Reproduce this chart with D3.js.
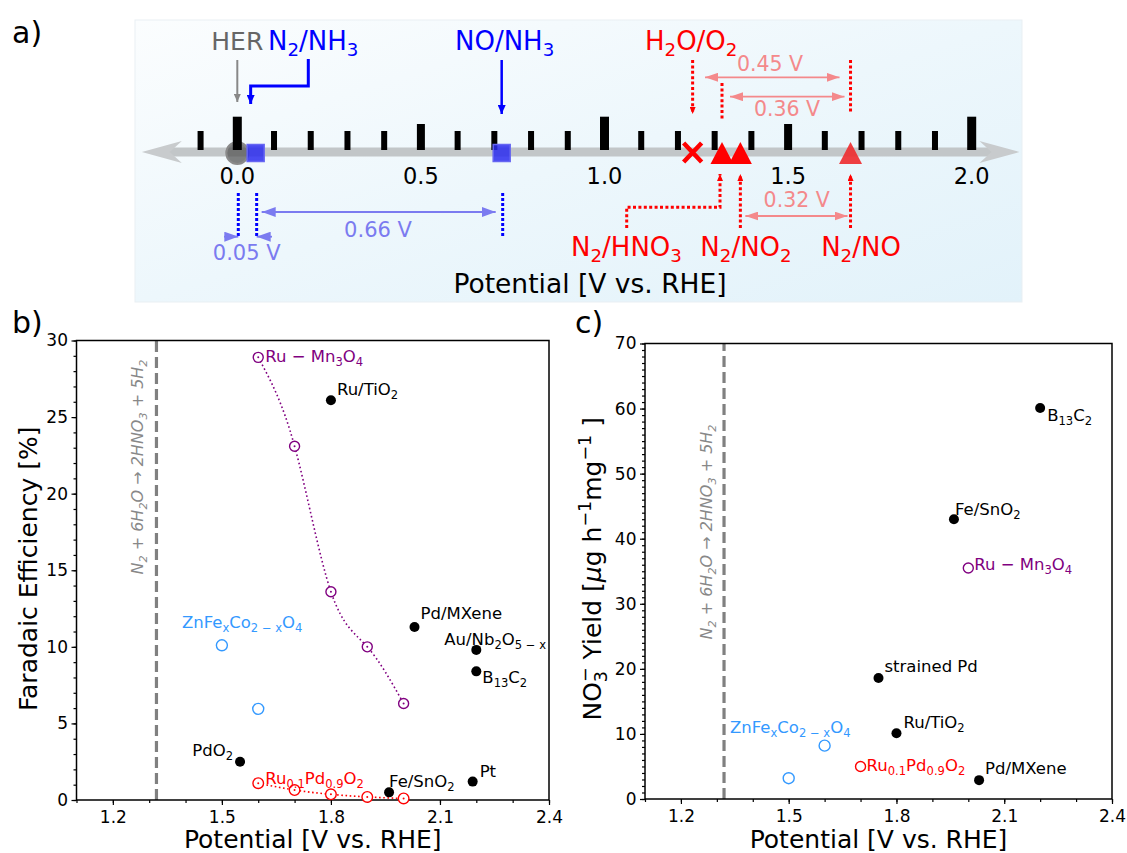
<!DOCTYPE html>
<html lang="en">
<head>
<meta charset="utf-8">
<script src="https://cdn.jsdelivr.net/npm/d3@7"></script>
<style>
  body { margin: 0; background: #fff; }
  svg { display: block; font-family: "DejaVu Sans", sans-serif; }
</style>
</head>
<body>
<svg id="fig" width="1127" height="853"></svg>
<script>
  // ---- a) redox couples on the potential scale (V vs. RHE)
  const coupleNames = ['HER', 'N2/NH3', 'NO/NH3', 'H2O/O2', 'N2/HNO3', 'N2/NO2', 'N2/NO'];
  const couplePotentials = [0.00, 0.05, 0.72, 1.24, 1.32, 1.37, 1.67];
  const scaleTicks = [-0.1, 0.0, 0.1, 0.2, 0.3, 0.4, 0.5, 0.6, 0.7, 0.8, 0.9, 1.0,
    1.1, 1.2, 1.3, 1.4, 1.5, 1.6, 1.7, 1.8, 1.9, 2.0];
  const scaleLabels = [0.0, 0.5, 1.0, 1.5, 2.0];
  const gapLabels = ['0.05 V', '0.66 V', '0.45 V', '0.36 V', '0.32 V'];

  // ---- b) faradaic efficiency [%]
  const ruMnV = [1.6, 1.7, 1.8, 1.9, 2.0];
  const ruMnFE = [28.9, 23.1, 13.6, 10.0, 6.3];
  const ruPdV = [1.6, 1.7, 1.8, 1.9, 2.0];
  const ruPdFE = [1.1, 0.65, 0.37, 0.2, 0.1];
  const znFeV = [1.5, 1.6];
  const znFeFE = [10.1, 5.95];
  const bCatalysts = ['Ru/TiO2', 'Pd/MXene', 'Au/Nb2O5-x', 'B13C2', 'PdO2', 'Fe/SnO2', 'Pt'];
  const bV = [1.80, 2.03, 2.20, 2.20, 1.55, 1.96, 2.19];
  const bFE = [26.1, 11.3, 9.8, 8.4, 2.5, 0.5, 1.2];

  // ---- c) nitrate yield [ug h-1 mg-1]
  const cCatalysts = ['B13C2', 'Fe/SnO2', 'strained Pd', 'Ru/TiO2', 'Pd/MXene'];
  const cV = [2.20, 1.96, 1.75, 1.80, 2.03];
  const cYield = [60.1, 43.0, 18.6, 10.1, 2.9];
  const ruMnYieldV = [2.0];
  const ruMnYield = [35.5];
  const ruPdYieldV = [1.7];
  const ruPdYield = [5.0];
  const znFeYieldV = [1.5, 1.6];
  const znFeYield = [3.2, 8.2];

  const eqPotential = 1.32;   // N2 + 6H2O -> 2HNO3 + 5H2
  const xTickVals = [1.2, 1.5, 1.8, 2.1, 2.4];
  const bTickVals = [0, 5, 10, 15, 20, 25, 30];
  const cTickVals = [0, 10, 20, 30, 40, 50, 60, 70];

  const purple = '#800080', red = '#ff0000', lightBlue = '#3399ff';
  const pink = '#f4898b', paleBlue = '#7b7bf0';
  const font = '"DejaVu Sans", sans-serif';

  // formulas with sub/superscripts
  const rich = {
    'HER': [['HER']],
    'N2/NH3': [['N'], ['2', 'sub'], ['/NH'], ['3', 'sub']],
    'NO/NH3': [['NO/NH'], ['3', 'sub']],
    'H2O/O2': [['H'], ['2', 'sub'], ['O/O'], ['2', 'sub']],
    'N2/HNO3': [['N'], ['2', 'sub'], ['/HNO'], ['3', 'sub']],
    'N2/NO2': [['N'], ['2', 'sub'], ['/NO'], ['2', 'sub']],
    'N2/NO': [['N'], ['2', 'sub'], ['/NO']],
    'Ru/TiO2': [['Ru/TiO'], ['2', 'sub']],
    'Pd/MXene': [['Pd/MXene']],
    'Au/Nb2O5-x': [['Au/Nb'], ['2', 'sub'], ['O'], ['5 − x', 'sub']],
    'B13C2': [['B'], ['13', 'sub'], ['C'], ['2', 'sub']],
    'PdO2': [['PdO'], ['2', 'sub']],
    'Fe/SnO2': [['Fe/SnO'], ['2', 'sub']],
    'Pt': [['Pt']],
    'strained Pd': [['strained Pd']],
    'Ru-Mn3O4': [['Ru − Mn'], ['3', 'sub'], ['O'], ['4', 'sub']],
    'Ru0.1Pd0.9O2': [['Ru'], ['0.1', 'sub'], ['Pd'], ['0.9', 'sub'], ['O'], ['2', 'sub']],
    'ZnFexCo2-xO4': [['ZnFe'], ['x', 'sub'], ['Co'], ['2 − x', 'sub'], ['O'], ['4', 'sub']],
    'eq': [['N'], ['2', 'sub'], [' + 6H'], ['2', 'sub'], ['O → 2HNO'], ['3', 'sub'], [' + 5H'], ['2', 'sub']],
    'yieldLabel': [['NO'], ['3', 'sub'], ['−', 'sup', -11], [' Yield ['], ['μ', 'i'], ['g h'], ['−1', 'sup'], ['mg'], ['−1', 'sup'], [' ]']]
  };

  function addRich(sel, key, size) {
    let cur = 0;
    rich[key].forEach(([s, k, dx]) => {
      const off = k === 'sub' ? size * 0.24 : k === 'sup' ? -size * 0.42 : 0;
      const ts = sel.append('tspan').attr('dy', off - cur).text(s);
      if (k === 'sub' || k === 'sup') ts.attr('font-size', size * 0.7);
      if (k === 'i') ts.attr('font-style', 'italic');
      if (dx) ts.attr('dx', dx);
      cur = off;
    });
    return sel;
  }

  function label(g, x, y, key, size, color, anchor) {
    const t = g.append('text').attr('x', x).attr('y', y).attr('font-size', size)
      .attr('fill', color).attr('text-anchor', anchor || 'start');
    return addRich(t, key, size);
  }

  const svg = d3.select('#fig');
  const defs = svg.append('defs');

  const grad = defs.append('linearGradient').attr('id', 'bg')
    .attr('x1', 0).attr('y1', 0).attr('x2', 1).attr('y2', 1);
  grad.append('stop').attr('offset', '0%').attr('stop-color', '#fbfdfe');
  grad.append('stop').attr('offset', '50%').attr('stop-color', '#edf7fc');
  grad.append('stop').attr('offset', '100%').attr('stop-color', '#e2f2fa');

  function marker(id, color, len, wid) {
    defs.append('marker').attr('id', id)
      .attr('viewBox', `0 0 ${len} ${wid}`)
      .attr('refX', len).attr('refY', wid / 2)
      .attr('markerWidth', len).attr('markerHeight', wid)
      .attr('markerUnits', 'userSpaceOnUse')
      .attr('orient', 'auto-start-reverse')
      .append('path').attr('d', `M0,0L${len},${wid / 2}L0,${wid}Z`).attr('fill', color);
  }
  marker('m-gray', '#888', 8, 7);
  marker('m-blue', '#0000ff', 9, 8);
  marker('m-red', red, 7, 6);
  marker('m-pink', pink, 13, 9);
  marker('m-pale', paleBlue, 14, 10);

  svg.append('text').attr('x', 12).attr('y', 43).attr('font-size', 30).text('a)');
  svg.append('text').attr('x', 12).attr('y', 333).attr('font-size', 30).text('b)');
  svg.append('text').attr('x', 575).attr('y', 333).attr('font-size', 30).text('c)');

  // ================= panel a =================
  const a = svg.append('g');
  a.append('rect').attr('x', 135).attr('y', 20).attr('width', 887).attr('height', 282)
    .attr('fill', 'url(#bg)').attr('stroke', '#e9eff3');

  const xa = d3.scaleLinear().domain([0, 2]).range([237.3, 971.7]);
  const pot = name => couplePotentials[coupleNames.indexOf(name)];
  const axisY = 152;

  a.append('line').attr('x1', xa(-0.2)).attr('x2', xa(2.06)).attr('y1', axisY).attr('y2', axisY)
    .attr('stroke', '#c2c6c8').attr('stroke-width', 9);
  const tipL = xa(-0.26), tipR = xa(2.13);
  a.append('path').attr('d', `M${tipL},${axisY}L${tipL + 40},${axisY - 11}L${tipL + 28},${axisY}L${tipL + 40},${axisY + 11}Z`)
    .attr('fill', '#c8cbcd');
  a.append('path').attr('d', `M${tipR},${axisY}L${tipR - 40},${axisY - 11}L${tipR - 28},${axisY}L${tipR - 40},${axisY + 11}Z`)
    .attr('fill', '#c8cbcd');

  // HER marker sits below the tick
  a.append('circle').attr('cx', xa(pot('HER'))).attr('cy', axisY + 1).attr('r', 11)
    .attr('fill', '#555').attr('fill-opacity', 0.75).attr('stroke', '#8a8a8a').attr('stroke-width', 2);

  const tickKind = d => { const r = Math.round(d * 10); return r % 10 === 0 ? 0 : r % 5 === 0 ? 1 : 2; };
  const tkTop = [116.7, 124, 131], tkW = [9, 8, 6];
  a.selectAll('rect.tk').data(scaleTicks).join('rect').attr('class', 'tk')
    .attr('x', d => xa(d) - tkW[tickKind(d)] / 2)
    .attr('y', d => tkTop[tickKind(d)])
    .attr('width', d => tkW[tickKind(d)])
    .attr('height', d => 150 - tkTop[tickKind(d)])
    .attr('fill', '#000');

  a.selectAll('text.tl').data(scaleLabels).join('text').attr('class', 'tl')
    .attr('x', d => xa(d)).attr('y', 184).attr('text-anchor', 'middle')
    .attr('font-size', 22.5).text(d => d.toFixed(1));

  // NH3 couples: squares
  ['N2/NH3', 'NO/NH3'].forEach(n => {
    a.append('rect').attr('x', xa(pot(n)) - 8.5).attr('y', axisY - 7.5).attr('width', 17).attr('height', 17)
      .attr('fill', '#2c2cee').attr('fill-opacity', 0.85).attr('stroke', '#6666f2').attr('stroke-width', 1.5);
  });
  // OER: cross
  const xo = xa(pot('H2O/O2'));
  a.append('path').attr('d', `M${xo - 9},${axisY - 9}L${xo + 9},${axisY + 10}M${xo + 9},${axisY - 9}L${xo - 9},${axisY + 10}`)
    .attr('stroke', red).attr('stroke-width', 4.5);
  // nitrogen oxidation couples: triangles
  ['N2/HNO3', 'N2/NO2', 'N2/NO'].forEach((n, i) => {
    const x = xa(pot(n));
    a.append('path').attr('d', `M${x},${axisY - 10}L${x + 11.5},${axisY + 12}L${x - 11.5},${axisY + 12}Z`)
      .attr('fill', i === 2 ? '#ee2a2c' : red).attr('fill-opacity', i === 2 ? 0.9 : 1);
  });

  // labels and pointers above the scale
  label(a, xa(pot('HER')), 50, 'HER', 25, '#666', 'middle');
  label(a, 268, 50, 'N2/NH3', 26, '#0000ff');
  label(a, 455, 50, 'NO/NH3', 26, '#0000ff');
  label(a, 645, 50, 'H2O/O2', 26, red);

  a.append('line').attr('x1', xa(pot('HER'))).attr('x2', xa(pot('HER'))).attr('y1', 60).attr('y2', 102)
    .attr('stroke', '#888').attr('stroke-width', 2).attr('marker-end', 'url(#m-gray)');
  a.append('path').attr('d', `M308.3,59V86H${xa(pot('N2/NH3')) - 5}V104`).attr('fill', 'none')
    .attr('stroke', '#0000ff').attr('stroke-width', 3).attr('marker-end', 'url(#m-blue)');
  a.append('line').attr('x1', xa(pot('NO/NH3'))).attr('x2', xa(pot('NO/NH3'))).attr('y1', 60).attr('y2', 114)
    .attr('stroke', '#0000ff').attr('stroke-width', 2.5).attr('marker-end', 'url(#m-blue)');

  const dotted = (x1, y1, x2, y2, color, end) => {
    const l = a.append('path').attr('d', `M${x1},${y1}L${x2},${y2}`).attr('fill', 'none')
      .attr('stroke', color).attr('stroke-width', 3).attr('stroke-dasharray', '3,2.4');
    if (end) l.attr('marker-end', `url(#${end})`);
    return l;
  };
  dotted(xo, 60, xo, 114, red, 'm-red');
  dotted(xa(pot('N2/NO')), 60, xa(pot('N2/NO')), 113, red);
  dotted(xa(pot('N2/HNO3')), 83, xa(pot('N2/HNO3')), 120, red);

  const gap = (x1, x2, y, color, m) => a.append('line').attr('x1', x1).attr('x2', x2).attr('y1', y).attr('y2', y)
    .attr('stroke', color).attr('stroke-width', 1.8)
    .attr('marker-start', `url(#${m})`).attr('marker-end', `url(#${m})`);
  gap(705, xa(pot('N2/NO')) - 11, 77.3, pink, 'm-pink');
  gap(730, xa(pot('N2/NO')) - 6, 96.7, pink, 'm-pink');
  a.append('text').attr('x', 770).attr('y', 71).attr('text-anchor', 'middle').attr('font-size', 20.5)
    .attr('fill', pink).text(gapLabels[2]);
  a.append('text').attr('x', 787).attr('y', 116).attr('text-anchor', 'middle').attr('font-size', 20.5)
    .attr('fill', pink).text(gapLabels[3]);

  // labels and pointers below the scale
  label(a, 626.5, 256, 'N2/HNO3', 26, red, 'middle');
  label(a, 746, 256, 'N2/NO2', 26, red, 'middle');
  label(a, 861, 256, 'N2/NO', 26, red, 'middle');
  a.append('path').attr('d', `M626.7,228V207.3H${xa(pot('N2/HNO3')) - 2}V174`).attr('fill', 'none')
    .attr('stroke', red).attr('stroke-width', 3).attr('stroke-dasharray', '3,2.4').attr('marker-end', 'url(#m-red)');
  dotted(xa(pot('N2/NO2')), 228, xa(pot('N2/NO2')), 174, red, 'm-red');
  dotted(xa(pot('N2/NO')), 228, xa(pot('N2/NO')), 174, red, 'm-red');
  gap(xa(pot('N2/NO2')) + 5, xa(pot('N2/NO')) - 3, 216, pink, 'm-pink');
  a.append('text').attr('x', 796.7).attr('y', 207).attr('text-anchor', 'middle').attr('font-size', 20.5)
    .attr('fill', pink).text(gapLabels[4]);

  ['HER', 'N2/NH3', 'NO/NH3'].forEach(n => {
    dotted(xa(pot(n)) + 1, 193, xa(pot(n)) + 1, 237, '#0000ff').attr('stroke-dasharray', '3,2');
  });
  gap(xa(pot('N2/NH3')) + 6, xa(pot('NO/NH3')) - 6, 212, paleBlue, 'm-pale');
  a.append('text').attr('x', 378).attr('y', 237).attr('text-anchor', 'middle').attr('font-size', 21)
    .attr('fill', paleBlue).text(gapLabels[1]);
  a.append('line').attr('x1', 224).attr('x2', xa(pot('HER')) + 1).attr('y1', 236.7).attr('y2', 236.7)
    .attr('stroke', paleBlue).attr('stroke-width', 1.8).attr('marker-end', 'url(#m-pale)');
  a.append('line').attr('x1', 272).attr('x2', xa(pot('N2/NH3')) + 1).attr('y1', 236.7).attr('y2', 236.7)
    .attr('stroke', paleBlue).attr('stroke-width', 1.8).attr('marker-end', 'url(#m-pale)');
  a.append('text').attr('x', 246.7).attr('y', 260).attr('text-anchor', 'middle').attr('font-size', 21)
    .attr('fill', paleBlue).text(gapLabels[0]);

  a.append('text').attr('x', 590).attr('y', 293).attr('text-anchor', 'middle').attr('font-size', 26.5)
    .text('Potential [V vs. RHE]');

  // ================= panels b and c =================
  const minorX = d3.range(11, 25).map(d => d / 10);

  function frame(x, y, yTicks, yMinor) {
    const g = svg.append('g');
    const [x0, x1] = x.range(), [y0, y1] = y.range();
    const style = s => s.attr('font-size', 17).attr('font-family', font);
    g.append('g').attr('transform', `translate(0,${y0})`)
      .call(d3.axisBottom(x).tickValues(minorX).tickSize(3).tickFormat(''));
    g.append('g').attr('transform', `translate(0,${y0})`)
      .call(d3.axisBottom(x).tickValues(xTickVals).tickSize(5).tickPadding(5.5).tickFormat(d3.format('.1f')))
      .call(style);
    g.append('g').attr('transform', `translate(${x0},0)`)
      .call(d3.axisLeft(y).tickValues(yMinor).tickSize(3).tickFormat(''));
    g.append('g').attr('transform', `translate(${x0},0)`)
      .call(d3.axisLeft(y).tickValues(yTicks).tickSize(5).tickPadding(3.5))
      .call(style);
    g.selectAll('.domain').remove();
    g.selectAll('.tick line').attr('stroke-width', 1.2);
    g.append('line').attr('x1', x(eqPotential)).attr('x2', x(eqPotential)).attr('y1', y0).attr('y2', y1)
      .attr('stroke', '#808080').attr('stroke-width', 3.2).attr('stroke-dasharray', '11,5');
    g.append('rect').attr('x', x0).attr('y', y1).attr('width', x1 - x0).attr('height', y0 - y1)
      .attr('fill', 'none').attr('stroke', '#000').attr('stroke-width', 1.5);
    g.append('text').attr('x', (x0 + x1) / 2).attr('y', 847.5).attr('text-anchor', 'middle')
      .attr('font-size', 25).text('Potential [V vs. RHE]');
    return g;
  }

  function eqText(g, x, cy) {
    const t = g.append('text').attr('transform', `translate(${x},${cy}) rotate(-90)`)
      .attr('text-anchor', 'middle').attr('font-size', 16).attr('font-style', 'italic').attr('fill', '#888');
    addRich(t, 'eq', 16);
  }

  function series(g, x, y, vs, ys, color, r, curve, dot) {
    const pts = vs.map((v, i) => [x(v), y(ys[i])]);
    if (curve) {
      g.append('path').attr('d', d3.line().curve(d3.curveNatural)(pts)).attr('fill', 'none')
        .attr('stroke', color).attr('stroke-width', 1.6).attr('stroke-dasharray', '1.6,2.6');
    }
    g.selectAll(null).data(pts).join('circle')
      .attr('cx', d => d[0]).attr('cy', d => d[1]).attr('r', r)
      .attr('fill', '#fff').attr('stroke', color).attr('stroke-width', 1.4);
    if (dot) {
      g.selectAll(null).data(pts).join('circle')
        .attr('cx', d => d[0]).attr('cy', d => d[1]).attr('r', 1).attr('fill', color);
    }
    return pts;
  }

  // ---- b
  const xb = d3.scaleLinear().domain([1.1, 2.4]).range([76.5, 549]);
  const yb = d3.scaleLinear().domain([0, 30]).range([800, 340.5]);
  const b = frame(xb, yb, bTickVals, d3.range(0, 31));
  eqText(b, 143, 467);

  const pRuMn = series(b, xb, yb, ruMnV, ruMnFE, purple, 5, true, true);
  const pRuPd = series(b, xb, yb, ruPdV, ruPdFE, red, 5.3, true, true);
  const pZnFe = series(b, xb, yb, znFeV, znFeFE, lightBlue, 5.5, false, false);
  label(b, pRuMn[0][0] + 7, pRuMn[0][1] + 5, 'Ru-Mn3O4', 16.5, purple);
  label(b, pRuPd[0][0] + 7, pRuPd[0][1] + 1, 'Ru0.1Pd0.9O2', 16.5, red);
  label(b, pZnFe[0][0] - 40, pZnFe[0][1] - 17.5, 'ZnFexCo2-xO4', 16.5, lightBlue);

  const bOffsets = [[6, -5], [6, -8], [-32, -5], [6, 12], [-7, -6], [0, -5], [7, -5]];
  b.selectAll('circle.cat').data(bCatalysts).join('circle').attr('class', 'cat')
    .attr('cx', (d, i) => xb(bV[i])).attr('cy', (d, i) => yb(bFE[i])).attr('r', 5).attr('fill', '#000');
  bCatalysts.forEach((c, i) => {
    label(b, xb(bV[i]) + bOffsets[i][0], yb(bFE[i]) + bOffsets[i][1], c, 16.5, '#000',
      c === 'PdO2' ? 'end' : 'start');
  });
  b.append('text').attr('transform', 'translate(37,568.8) rotate(-90)').attr('text-anchor', 'middle')
    .attr('font-size', 25).text('Faradaic Efficiency [%]');

  // ---- c
  const xc = d3.scaleLinear().domain([1.1, 2.4]).range([645, 1112]);
  const yc = d3.scaleLinear().domain([0, 70]).range([799, 343.5]);
  const c = frame(xc, yc, cTickVals, d3.range(0, 71));
  eqText(c, 712, 532);

  const qRuMn = series(c, xc, yc, ruMnYieldV, ruMnYield, purple, 5, false, false);
  const qRuPd = series(c, xc, yc, ruPdYieldV, ruPdYield, red, 5, false, false);
  const qZnFe = series(c, xc, yc, znFeYieldV, znFeYield, lightBlue, 5.5, false, false);
  label(c, qRuMn[0][0] + 6, qRuMn[0][1] + 2, 'Ru-Mn3O4', 16.5, purple);
  label(c, qRuPd[0][0] + 6, qRuPd[0][1] + 5, 'Ru0.1Pd0.9O2', 16.5, red);
  label(c, qZnFe[0][0] - 58.7, qZnFe[0][1] - 45, 'ZnFexCo2-xO4', 16.5, lightBlue);

  const cOffsets = [[7, 13], [1, -4], [6, -6], [7, -5], [6, -6]];
  c.selectAll('circle.cat').data(cCatalysts).join('circle').attr('class', 'cat')
    .attr('cx', (d, i) => xc(cV[i])).attr('cy', (d, i) => yc(cYield[i])).attr('r', 5).attr('fill', '#000');
  cCatalysts.forEach((n, i) => {
    label(c, xc(cV[i]) + cOffsets[i][0], yc(cYield[i]) + cOffsets[i][1], n, 16.5, '#000');
  });
  const yl = c.append('text').attr('transform', 'translate(601,568.8) rotate(-90)').attr('text-anchor', 'middle')
    .attr('font-size', 25);
  addRich(yl, 'yieldLabel', 25);
</script>
</body>
</html>
